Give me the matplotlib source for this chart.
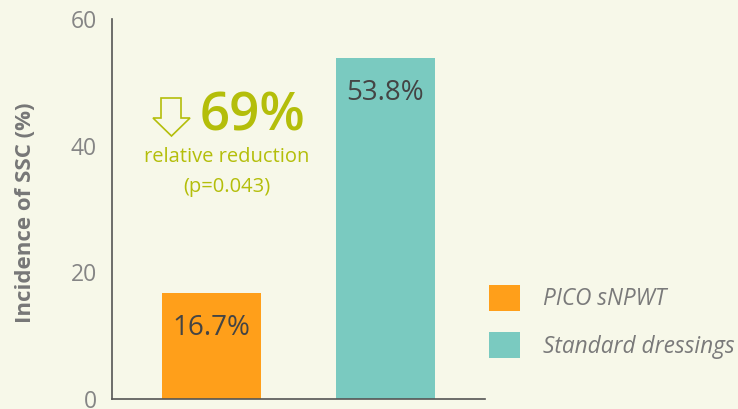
import matplotlib
matplotlib.use("Agg")
import matplotlib.pyplot as plt
from matplotlib.patches import Polygon

plt.rcParams['font.family'] = ['Open Sans', 'DejaVu Sans']

# data
groups = ["PICO sNPWT", "Standard dressings"]
incidence = [16.7, 53.8]
bar_labels = ["16.7%", "53.8%"]
yticks = [0, 20, 40, 60]

BG = "#F7F8E9"
COLORS = ["#FF9F1A", "#7ACAC0"]
OLIVE = "#B4BE0A"
GREY = "#858585"

fig = plt.figure(figsize=(7.38, 4.09), dpi=100, facecolor=BG)
ax = fig.add_axes([112/738, 1 - 399/409, 373/738, 380/409], facecolor=BG)

bars = ax.bar([0, 1], incidence, width=0.569, color=COLORS, label=groups)
ax.set_xlim(-0.572, 1.572)
ax.set_ylim(0, 60)
ax.set_yticks(yticks)
ax.set_xticks([])
ax.tick_params(axis='y', length=0, pad=11, labelsize=16.5, labelcolor=GREY)

for s in ["top", "right"]:
    ax.spines[s].set_visible(False)
for s in ["left", "bottom"]:
    ax.spines[s].set_color("#555555")
    ax.spines[s].set_linewidth(1.2)

ax.set_ylabel("Incidence of SSC (%)", fontsize=16, fontweight="bold", color="#777777")
ax.yaxis.set_label_coords(-0.205, 0.49)

# value labels inside the bars
for b, lab in zip(bars, bar_labels):
    ax.annotate(lab, (b.get_x() + b.get_width() / 2, b.get_height()),
                xytext=(0, -25), textcoords="offset points",
                ha="center", va="center", fontsize=20, color="#444444")

# reduction callout
fig.text(253/738, 1 - 117/409, "69%", fontsize=38, color=OLIVE,
         ha="center", va="center", fontweight="semibold")
fig.text(227/738, 1 - 157/409, "relative reduction", fontsize=14.5, color=OLIVE,
         ha="center", va="center")
fig.text(227/738, 1 - 187/409, "(p=0.043)", fontsize=14.5, color=OLIVE,
         ha="center", va="center")

# outlined down arrow
arrow_px = [(161, 98), (181, 98), (181, 118), (190, 118), (171.5, 136),
            (153, 118), (161, 118)]
arrow = Polygon([(x / 738, 1 - y / 409) for x, y in arrow_px], closed=True,
                transform=fig.transFigure, facecolor="none", edgecolor=OLIVE,
                linewidth=1.2)
fig.patches.append(arrow)

leg = fig.legend(handles=bars, labels=groups, loc="upper left",
                 bbox_to_anchor=(489/738, 1 - 285/409), frameon=False,
                 prop={"size": 16.3, "style": "italic"},
                 handlelength=1.37, handleheight=1.37, handletextpad=1.0,
                 labelspacing=0.92, borderaxespad=0, borderpad=0)
for t in leg.get_texts():
    t.set_color("#7A7A7A")

fig.savefig("out.png", facecolor=BG)
